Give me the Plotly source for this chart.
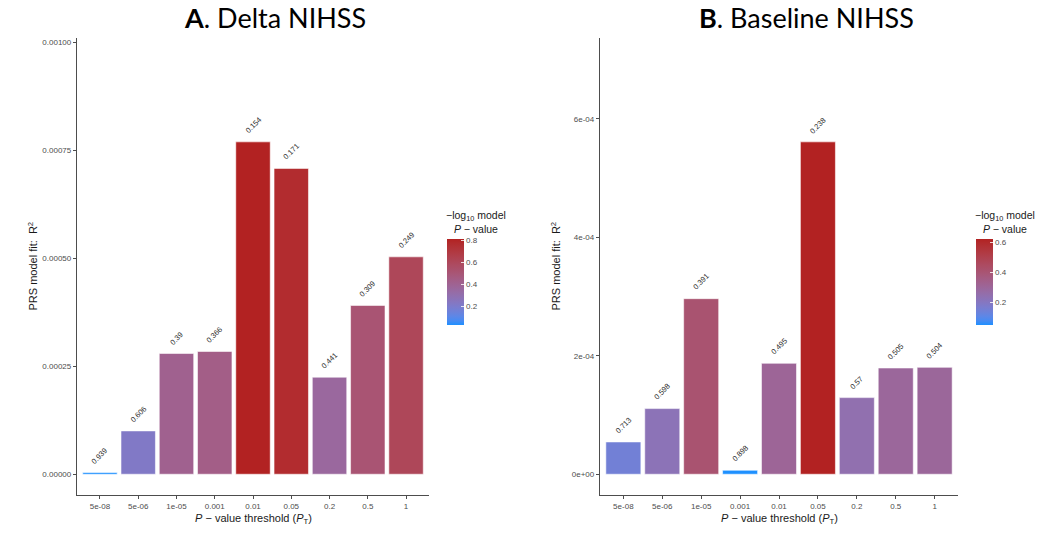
import numpy as np
import plotly.graph_objects as go

W, H = 1058, 533

# P-value thresholds (shared by both panels)
thresholds = ["5e-08", "5e-06", "1e-05", "0.001", "0.01", "0.05", "0.2", "0.5", "1"]

# Panel A: Delta NIHSS
r2_delta = [4.0e-6, 1.002e-4, 2.794e-4, 2.84e-4, 7.69e-4, 7.076e-4, 2.245e-4, 3.905e-4, 5.03e-4]
p_delta = [0.939, 0.606, 0.39, 0.366, 0.154, 0.171, 0.441, 0.309, 0.249]

# Panel B: Baseline NIHSS
r2_base = [5.45e-5, 1.108e-4, 2.963e-4, 6.7e-6, 1.872e-4, 5.61e-4, 1.293e-4, 1.793e-4, 1.804e-4]
p_base = [0.713, 0.598, 0.391, 0.898, 0.495, 0.238, 0.57, 0.505, 0.504]

TICK_FONT = dict(family="Liberation Sans, Arial, sans-serif", size=8, color="#4d4d4d")
AXIS_FONT = dict(family="Liberation Sans, Arial, sans-serif", size=11, color="#1a1a1a")
LINE_COL = "#4d4d4d"


# ---- gradient low -> high interpolated in CIELAB ----
def _lin(c):
    c = c / 255.0
    return np.where(c <= 0.04045, c / 12.92, ((c + 0.055) / 1.055) ** 2.4)


def _unlin(c):
    c = np.clip(c, 0, 1)
    return np.where(c <= 0.0031308, 12.92 * c, 1.055 * c ** (1 / 2.4) - 0.055) * 255


M = np.array([[0.4124, 0.3576, 0.1805], [0.2126, 0.7152, 0.0722], [0.0193, 0.1192, 0.9505]])
Minv = np.linalg.inv(M)
WHITE = np.array([0.95047, 1.0, 1.08883])


def rgb_to_lab(rgb):
    xyz = M @ _lin(np.array(rgb, float)) / WHITE
    f = np.where(xyz > 216 / 24389, np.cbrt(xyz), (24389 / 27 * xyz + 16) / 116)
    return np.array([116 * f[1] - 16, 500 * (f[0] - f[1]), 200 * (f[1] - f[2])])


def lab_to_rgb(lab):
    fy = (lab[0] + 16) / 116
    fx = fy + lab[1] / 500
    fz = fy - lab[2] / 200
    f = np.array([fx, fy, fz])
    xyz = np.where(f ** 3 > 216 / 24389, f ** 3, (116 * f - 16) / (24389 / 27)) * WHITE
    return _unlin(Minv @ xyz)


low, high = rgb_to_lab((30, 144, 255)), rgb_to_lab((178, 34, 34))
colorscale = []
for t in np.linspace(0, 1, 21):
    r, g, b = lab_to_rgb(low + (high - low) * t)
    colorscale.append([float(t), f"rgb({r:.0f},{g:.0f},{b:.0f})"])

fig = go.Figure()

panels = [
    dict(r2=r2_delta, p=p_delta, ax="", ca="coloraxis", x0=77, x1=429,
         title="<b>A</b>. Delta NIHSS", tx=275, cb_x=446.7, cb_ticks=[0.2, 0.4, 0.6, 0.8],
         ytick_step=0.00025, fmt=lambda v: f"{v:.5f}"),
    dict(r2=r2_base, p=p_base, ax="2", ca="coloraxis2", x0=600, x1=958,
         title="<b>B</b>. Baseline NIHSS", tx=806, cb_x=975.7, cb_ticks=[0.2, 0.4, 0.6],
         ytick_step=0.0002, fmt=lambda v: f"{v:.0e}"),
]

y_top, y_bot = 38, 495
annotations = []
for pn in panels:
    r2 = np.array(pn["r2"])
    neglog = -np.log10(np.array(pn["p"]))
    xa, ya = "x" + pn["ax"], "y" + pn["ax"]

    fig.add_trace(go.Bar(
        x=thresholds, y=r2, xaxis=xa, yaxis=ya, width=0.9,
        marker=dict(color=neglog, coloraxis=pn["ca"],
                    line=dict(color="rgba(255,255,255,0.7)", width=0.8)),
        showlegend=False,
    ))

    # rotated p-value labels above bars (category index as x position)
    for i, (v, p) in enumerate(zip(r2, pn["p"])):
        annotations.append(dict(
            x=i, y=v, xref=xa, yref=ya, text=f"{p:g}", textangle=-45,
            showarrow=False, xanchor="center", yanchor="bottom", yshift=4,
            font=dict(family="Liberation Sans, Arial, sans-serif", size=7.5, color="#2b2b2b"),
        ))

    ymax = r2.max() * 1.25
    ylo, yhi = -0.05 * ymax, 1.05 * ymax
    yticks = np.arange(0, yhi, pn["ytick_step"])
    dom_x = [pn["x0"] / W, pn["x1"] / W]
    dom_y = [1 - y_bot / H, 1 - y_top / H]

    fig.update_layout(**{
        "xaxis" + pn["ax"]: dict(
            domain=dom_x, anchor=ya, type="category", range=[-0.6, 8.6],
            showline=True, linecolor=LINE_COL, linewidth=1.3, ticks="outside",
            ticklen=3, tickcolor=LINE_COL, tickfont=TICK_FONT, showgrid=False,
            zeroline=False, fixedrange=True,
        ),
        "yaxis" + pn["ax"]: dict(
            domain=dom_y, anchor=xa, range=[ylo, yhi],
            tickvals=list(yticks), ticktext=[pn["fmt"](v) for v in yticks],
            showline=True, linecolor=LINE_COL, linewidth=1.3, ticks="outside",
            ticklen=3, tickcolor=LINE_COL, tickfont=TICK_FONT, showgrid=False,
            zeroline=False, fixedrange=True,
        ),
        pn["ca"]: dict(
            colorscale=colorscale, cmin=float(neglog.min()), cmax=float(neglog.max()),
            colorbar=dict(
                x=pn["cb_x"] / W, xanchor="left", xpad=0, y=1 - 282 / H,
                yanchor="middle", ypad=0, len=86, lenmode="pixels", thickness=17,
                thicknessmode="pixels", outlinewidth=0, tickvals=pn["cb_ticks"],
                ticks="inside", ticklen=3, tickcolor="rgba(255,255,255,0.8)",
                tickfont=TICK_FONT, title=dict(text=""),
            ),
        ),
    })

    # panel title
    annotations.append(dict(
        x=pn["tx"] / W, y=1 - 17 / H, xref="paper", yref="paper", text=pn["title"],
        showarrow=False, xanchor="center", yanchor="middle",
        font=dict(family="Lato, Open Sans, sans-serif", size=27, color="black"),
    ))
    # x-axis title
    annotations.append(dict(
        x=(pn["x0"] + pn["x1"]) / 2 / W, y=1 - 519 / H, xref="paper", yref="paper",
        text="<i>P</i> \u2212 value threshold (<i>P</i><sub>T</sub>)", showarrow=False,
        xanchor="center", yanchor="middle", font=AXIS_FONT,
    ))
    # y-axis title
    annotations.append(dict(
        x=(pn["x0"] - 45) / W, y=1 - (y_top + y_bot) / 2 / H, xref="paper", yref="paper",
        text="PRS model fit:  R<sup>2</sup>", textangle=-90, showarrow=False,
        xanchor="center", yanchor="middle", font=AXIS_FONT,
    ))
    # colour bar title
    annotations.append(dict(
        x=(pn["cb_x"] + 29) / W, y=1 - 222 / H, xref="paper", yref="paper",
        text="\u2212log<sub>10</sub> model<br><i>P</i> \u2212 value", showarrow=False,
        xanchor="center", yanchor="middle", align="center",
        font=dict(family="Liberation Sans, Arial, sans-serif", size=10.5, color="#1a1a1a"),
    ))

fig.update_layout(
    width=W, height=H, margin=dict(l=0, r=0, t=0, b=0),
    paper_bgcolor="white", plot_bgcolor="white",
    annotations=annotations, bargap=0.1,
)

fig.write_html("out.html")
